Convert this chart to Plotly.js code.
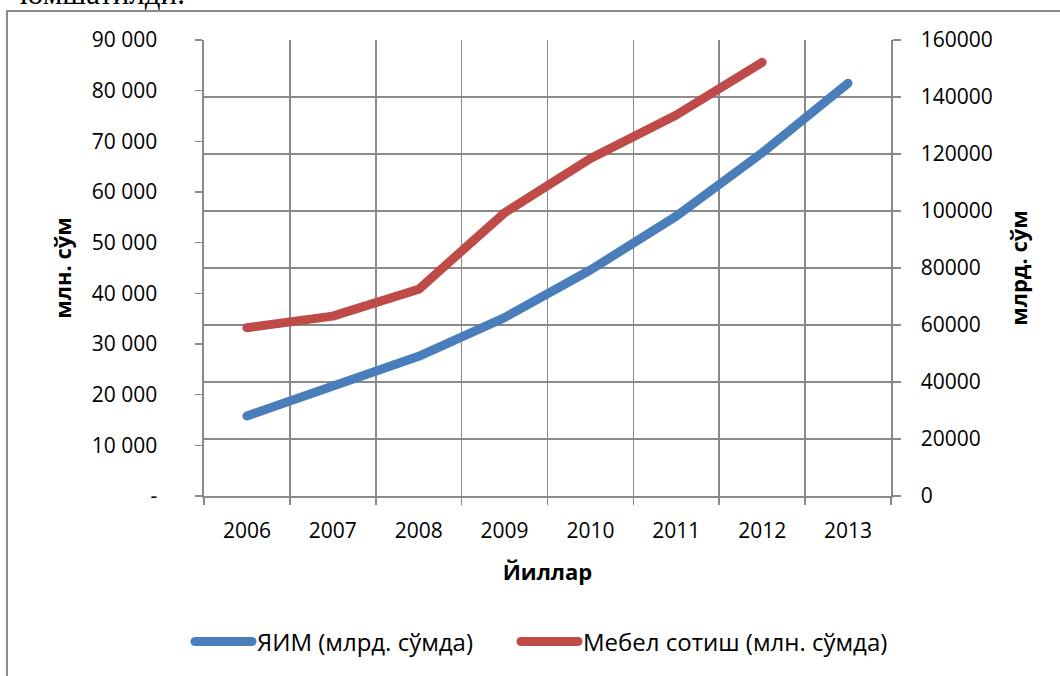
<!DOCTYPE html>
<html>
<head>
<meta charset="utf-8">
<script src="https://cdn.plot.ly/plotly-3.0.1.min.js"></script>
<style>
  html, body { margin: 0; padding: 0; width: 1060px; height: 676px; overflow: hidden; background: #fff; }
  #topText { position: absolute; left: 20px; top: -22px; font-family: "Liberation Serif", serif; font-size: 31px; line-height: 31px; color: #000; white-space: nowrap; }
  #chart { position: absolute; left: 0; top: 0; width: 1060px; height: 676px; }
  .scatterlayer .js-line, .legendlines path { stroke-linecap: round; stroke-linejoin: round; }
</style>
</head>
<body>
<div id="chart"></div>
<div id="topText">юмшатилди.</div>
<script>
// ---- data ----
const years = ['2006', '2007', '2008', '2009', '2010', '2011', '2012', '2013'];
const gdpValues = [28100, 38900, 49000, 62600, 79300, 98200, 120400, 144800];       // ЯИМ (млрд. сўмда) – right axis
const furnitureValues = [33200, 35500, 40800, 55900, 66600, 75200, 85600];          // Мебел сотиш (млн. сўмда) – left axis
const leftTickVals = [0, 10000, 20000, 30000, 40000, 50000, 60000, 70000, 80000, 90000];
const leftTickText = ['-', '10 000', '20 000', '30 000', '40 000', '50 000', '60 000', '70 000', '80 000', '90 000'];
const seriesNames = ['ЯИМ (млрд. сўмда)', 'Мебел сотиш (млн. сўмда)'];

const FONT = '"Open Sans", "Noto Sans", sans-serif';
const GRID = '#8a8a8a';

const traces = [
  {
    x: years, y: gdpValues, name: seriesNames[0], type: 'scatter', mode: 'lines',
    yaxis: 'y2', legend: 'legend', line: { color: '#4A7EBB', width: 9 }
  },
  {
    x: years.slice(0, furnitureValues.length), y: furnitureValues, name: seriesNames[1], type: 'scatter', mode: 'lines',
    yaxis: 'y', legend: 'legend2', line: { color: '#BE4B48', width: 9 }
  }
];

const legendBase = {
  orientation: 'h', y: -0.32, yanchor: 'middle', xanchor: 'left',
  font: { family: FONT, size: 24, color: '#000' }, itemwidth: 57, bgcolor: 'rgba(0,0,0,0)'
};

const layout = {
  width: 1060, height: 676,
  margin: { l: 204, r: 169, t: 40, b: 180 },
  paper_bgcolor: '#fff', plot_bgcolor: '#fff',
  font: { family: FONT, size: 21, color: '#000' },
  showlegend: true,
  legend: Object.assign({}, legendBase, { x: -0.0204 }),
  legend2: Object.assign({}, legendBase, { x: 0.4541 }),
  xaxis: {
    type: 'category', tickson: 'boundaries', range: [-0.5, 7.5],
    showgrid: true, gridcolor: GRID, gridwidth: 1.6,
    showline: true, linecolor: GRID, linewidth: 1.6,
    ticks: 'outside', ticklen: 7, tickcolor: GRID, tickwidth: 1.6,
    ticklabelstandoff: 15,
    tickfont: { family: FONT, size: 21 },
    title: { text: 'Йиллар', font: { family: FONT, size: 22, weight: 'bold' }, standoff: 22 },
    zeroline: false, fixedrange: true
  },
  yaxis: {
    range: [0, 90000], tickvals: leftTickVals, ticktext: leftTickText,
    showgrid: false, zeroline: false,
    showline: true, linecolor: GRID, linewidth: 1.6,
    ticks: 'outside', ticklen: 7, tickcolor: GRID, tickwidth: 1.6,
    ticklabelstandoff: 34,
    tickfont: { family: FONT, size: 21 },
    title: { text: 'млн. сўм', font: { family: FONT, size: 22, weight: 'bold' }, standoff: 14 },
    fixedrange: true
  },
  yaxis2: {
    overlaying: 'y', side: 'right',
    range: [0, 160000], dtick: 20000, tick0: 0, tickformat: 'd',
    showgrid: true, gridcolor: GRID, gridwidth: 1.6, zeroline: false,
    showline: true, linecolor: GRID, linewidth: 1.6,
    ticks: 'outside', ticklen: 8, tickcolor: GRID, tickwidth: 1.6,
    ticklabelstandoff: 16,
    tickfont: { family: FONT, size: 21 },
    title: { text: 'млрд. сўм', font: { family: FONT, size: 22, weight: 'bold' }, standoff: 20 },
    fixedrange: true
  },
  shapes: [
    { type: 'rect', xref: 'paper', yref: 'paper', x0: -0.2868, x1: 1.3, y0: -0.45, y1: 1.0636,
      line: { color: '#8a8a8a', width: 2 }, fillcolor: 'rgba(0,0,0,0)', layer: 'below' }
  ]
};

Plotly.newPlot('chart', traces, layout, { staticPlot: true, displayModeBar: false });
</script>
</body>
</html>
